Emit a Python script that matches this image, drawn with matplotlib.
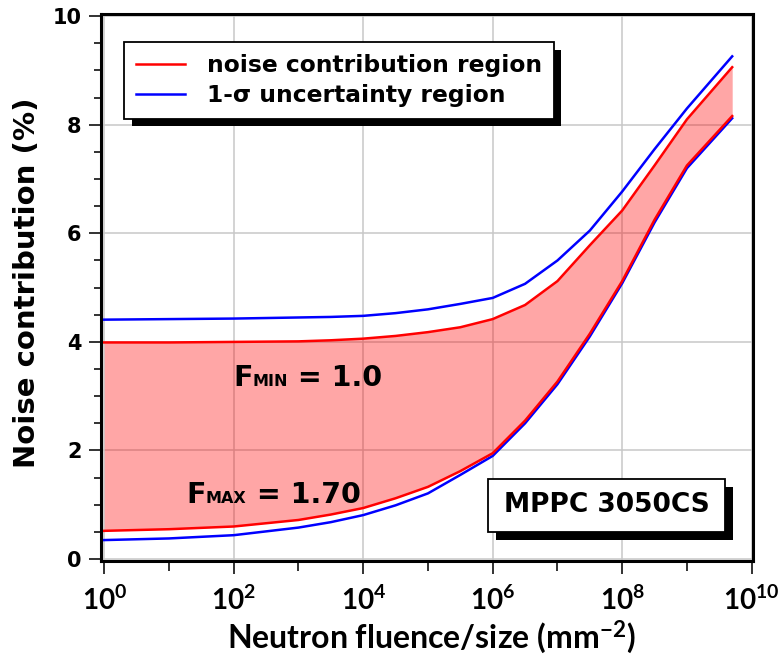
import math
import matplotlib
matplotlib.use("Agg")
import matplotlib.pyplot as plt
from matplotlib.patches import Rectangle
from matplotlib.offsetbox import TextArea, HPacker, AnnotationBbox
from matplotlib.ticker import FixedLocator, MultipleLocator, FuncFormatter, NullFormatter

plt.rcParams["mathtext.fontset"] = "custom"
plt.rcParams["mathtext.rm"] = "Lato:bold"
plt.rcParams["mathtext.it"] = "Lato:bold"
plt.rcParams["mathtext.bf"] = "Lato:bold"

# Neutron fluence per unit size (mm^-2)
fluence = [1, 1e1, 1e2, 1e3, 3.16e3, 1e4, 3.16e4, 1e5, 3.16e5, 1e6, 3.16e6,
           1e7, 3.16e7, 1e8, 3.16e8, 1e9, 5e9]

# Noise contribution (%) bounds
noise_fmin = [3.99, 3.99, 4.00, 4.01, 4.03, 4.06, 4.11, 4.18, 4.27, 4.42, 4.68,
              5.12, 5.78, 6.42, 7.25, 8.10, 9.06]
noise_fmax = [0.52, 0.55, 0.60, 0.72, 0.82, 0.94, 1.12, 1.33, 1.62, 1.95, 2.55,
              3.27, 4.15, 5.12, 6.25, 7.25, 8.16]

# 1-sigma uncertainty envelope
sigma_upper = [4.41, 4.42, 4.43, 4.45, 4.46, 4.48, 4.53, 4.60, 4.70, 4.81, 5.07,
               5.50, 6.05, 6.77, 7.55, 8.30, 9.26]
sigma_lower = [0.35, 0.38, 0.44, 0.58, 0.68, 0.81, 0.99, 1.21, 1.55, 1.90, 2.50,
               3.22, 4.10, 5.08, 6.20, 7.20, 8.12]

x_tick_exponents = [0, 2, 4, 6, 8, 10]
y_ticks = [0, 2, 4, 6, 8, 10]

W, H, DPI = 781, 656, 100
fig = plt.figure(figsize=(W / DPI, H / DPI), dpi=DPI)
ax = fig.add_axes([101 / W, 1 - 560.7 / H, 652.3 / W, 546.7 / H])

ax.set_xscale("log")
ax.set_xlim(10 ** -0.05, 10 ** 10.025)
ax.set_ylim(-0.03, 10.04)

# grid
ax.set_axisbelow(True)
ax.xaxis.set_major_locator(FixedLocator([10.0 ** e for e in x_tick_exponents]))
ax.xaxis.set_minor_locator(FixedLocator([10.0 ** e for e in range(1, 10, 2)]))
ax.yaxis.set_major_locator(FixedLocator(y_ticks))
ax.yaxis.set_minor_locator(MultipleLocator(0.5))
ax.grid(True, which="major", color="#c8c8c8", lw=1.1)

# band between the two noise bounds
ax.fill_between(fluence, noise_fmax, noise_fmin, color="red", alpha=0.35, lw=0, zorder=2)

lb_up, = ax.plot(fluence, sigma_upper, color="blue", lw=1.8, zorder=3)
ax.plot(fluence, sigma_lower, color="blue", lw=1.8, zorder=3)
lr_up, = ax.plot(fluence, noise_fmin, color="red", lw=1.8, zorder=4)
ax.plot(fluence, noise_fmax, color="red", lw=1.8, zorder=4)

# spines and ticks
for s in ax.spines.values():
    s.set_linewidth(2.2)
    s.set_color("black")
ax.tick_params(axis="both", which="both", direction="out", top=False, right=False,
               width=1.3, color="#222222")
ax.tick_params(axis="x", which="major", length=9, pad=10, labelsize=20)
ax.tick_params(axis="x", which="minor", length=7)
ax.tick_params(axis="y", which="major", length=9, pad=5)
ax.tick_params(axis="y", which="minor", length=5)

ax.xaxis.set_major_formatter(FuncFormatter(lambda v, p: r"$10^{%d}$" % round(math.log10(v))))
ax.xaxis.set_minor_formatter(NullFormatter())
ax.set_yticklabels([str(v) for v in y_ticks], fontsize=15, fontweight="bold", family="DejaVu Sans")

ax.set_xlabel(r"Neutron fluence/size (mm$^{-2}$)", fontsize=23, family="Lato",
              fontweight="bold", va="center")
ax.xaxis.set_label_coords(0.507, -0.14)
ax.set_ylabel("Noise contribution (%)", fontsize=21, family="DejaVu Sans",
              fontweight="bold", va="center")
ax.yaxis.set_label_coords(-0.1135, 0.508)

# legend with drop shadow
leg = ax.legend([lr_up, lb_up], ["noise contribution region", "1-σ uncertainty region"],
                loc="upper left", bbox_to_anchor=(0.0357, 0.948), borderaxespad=0,
                prop={"family": "DejaVu Sans", "weight": "bold", "size": 16.8},
                frameon=True, fancybox=False, framealpha=1, edgecolor="black",
                borderpad=0.5, handlelength=2.1, handletextpad=0.95, labelspacing=0.3)
leg.get_frame().set_linewidth(1.3)
leg.set_zorder(6)

# device label box
bx0, by0, bx1, by1 = 0.5937, 0.053, 0.9566, 0.1494
sx, sy = 8 / 652.3, 8 / 546.7
ax.add_patch(Rectangle((bx0 + sx, by0 - sy), bx1 - bx0, by1 - by0, transform=ax.transAxes,
                       fc="black", ec="none", zorder=5, clip_on=False))
ax.add_patch(Rectangle((bx0, by0), bx1 - bx0, by1 - by0, transform=ax.transAxes,
                       fc="white", ec="black", lw=1.3, zorder=5.5, clip_on=False))
ax.text((bx0 + bx1) / 2, (by0 + by1) / 2, "MPPC 3050CS", transform=ax.transAxes,
        ha="center", va="center", fontsize=19, fontweight="bold", family="DejaVu Sans", zorder=6)


def f_label(sub, value, xy):
    parts = [
        TextArea("F", textprops=dict(fontsize=20.5, fontweight="bold", family="DejaVu Sans")),
        TextArea(sub, textprops=dict(fontsize=11.5, fontweight="bold", family="DejaVu Sans")),
        TextArea(" = " + value, textprops=dict(fontsize=20.5, fontweight="bold", family="DejaVu Sans")),
    ]
    box = HPacker(children=parts, align="baseline", pad=0, sep=0)
    ab = AnnotationBbox(box, xy, xycoords="data", box_alignment=(0, 0.2), frameon=False, zorder=6)
    ax.add_artist(ab)


f_label("MIN", "1.0", (10 ** 1.99, 3.18))
f_label("MAX", "1.70", (10 ** 1.27, 1.03))

fig.canvas.draw()
bb = leg.get_window_extent().transformed(ax.transAxes.inverted())
ax.add_patch(Rectangle((bb.x0 + 7.5 / 652.3, bb.y0 - 7.5 / 546.7), bb.width, bb.height,
                       transform=ax.transAxes, fc="black", ec="none", zorder=5.8, clip_on=False))

fig.savefig("out.png", dpi=DPI)
